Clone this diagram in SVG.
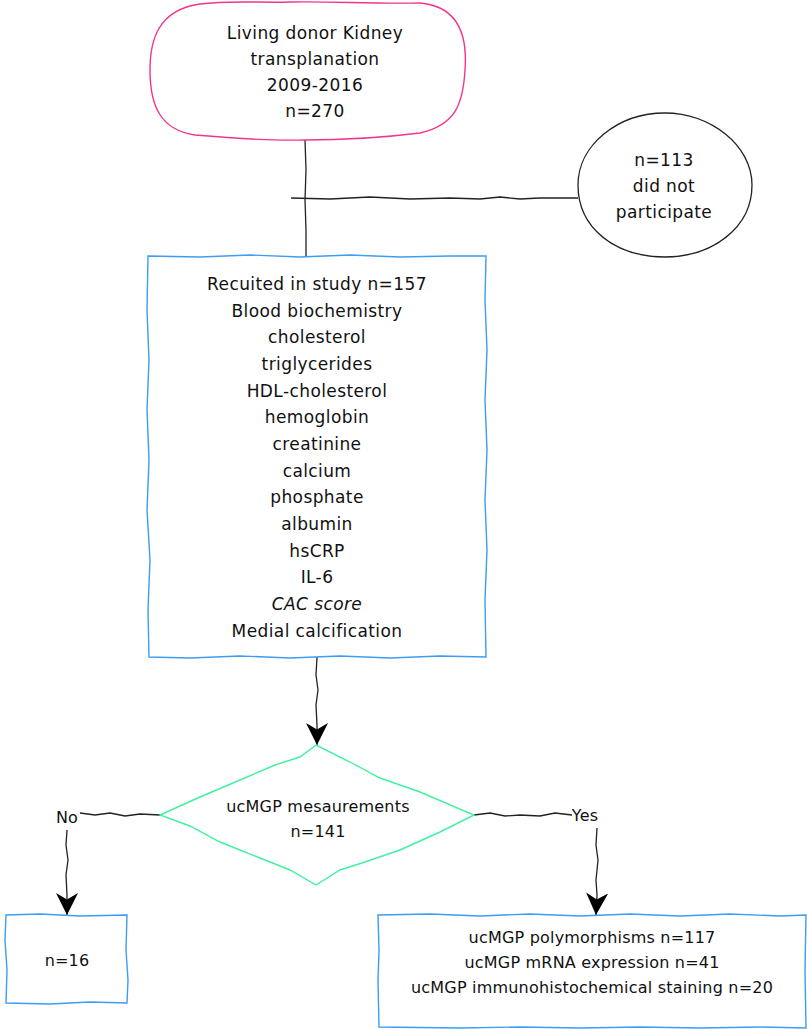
<svg xmlns="http://www.w3.org/2000/svg" width="807" height="1029" viewBox="0 0 807 1029">
<defs>
<style>
.t{font-family:"DejaVu Sans","Liberation Sans",sans-serif;font-size:17px;letter-spacing:0.4px;fill:#111;text-anchor:middle}
.s{font-family:"DejaVu Sans","Liberation Sans",sans-serif;font-size:16px;letter-spacing:0.2px;fill:#111;text-anchor:middle}
.pink{fill:#fff;stroke:#f0358f;stroke-width:1.4}
.blue{fill:#fff;stroke:#3d9cf5;stroke-width:1.4}
.green{fill:#fff;stroke:#42f0a0;stroke-width:1.4}
.blk{fill:#fff;stroke:#222;stroke-width:1.3}
.ln{fill:none;stroke:#222;stroke-width:1.3}
</style>
<marker id="ah" viewBox="0 0 10 10" refX="10" refY="5" markerWidth="22" markerHeight="22" markerUnits="userSpaceOnUse" orient="auto">
<path d="M0,0 L10,5 L0,10 L3,5 Z" fill="#000"/>
</marker>
</defs>
<rect width="807" height="1029" fill="#fff"/>
<g id="connectors">
<path class="ln" d="M305,140 L306,170 L305,200 L306,230 L306,256"/>
<path class="ln" d="M291,198 L330,199 L370,197 L410,199 L450,198 L480,199 L500,197 L520,199 L540,198 L578,198"/>
<path class="ln" d="M317,657 L316,675 L318,690 L316,705 L317,725 L317,745" marker-end="url(#ah)"/>
<path class="ln" d="M160,815 L140,814 L125,816 L110,813 L95,815 L80,813"/>
<path class="ln" d="M67,830 L66,845 L68,860 L66,875 L67,895 L67,915" marker-end="url(#ah)"/>
<path class="ln" d="M474,815 L490,813 L505,816 L520,815 L540,816 L555,813 L572,815"/>
<path class="ln" d="M597,828 L596,845 L598,860 L596,880 L597,895 L596,915" marker-end="url(#ah)"/>
<text class="s" x="67" y="823" font-size="14">No</text>
<text class="s" x="585" y="821" font-size="14">Yes</text>
</g>
<g id="n1">
<path class="pink" d="M200,4 C230,0 260,3 290,2 C330,1 370,4 420,3 C455,6 468,30 465,70 C463,105 455,125 420,133 C380,138 340,140 305,140 C270,141 230,138 195,135 C160,130 150,105 150,70 C150,40 158,10 200,4 Z"/>
<text class="t" x="315" y="39">Living donor Kidney</text>
<text class="t" x="315" y="65">transplanation</text>
<text class="t" x="315" y="91">2009-2016</text>
<text class="t" x="315" y="117">n=270</text>
</g>
<g id="n2">
<path class="blk" d="M665,113 C710,113 752,145 752,185 C752,228 712,257 665,257 C615,257 578,228 578,185 C578,145 618,113 665,113 Z"/>
<text class="t" x="664" y="166">n=113</text>
<text class="t" x="664" y="192">did not</text>
<text class="t" x="664" y="218">participate</text>
</g>
<g id="n3">
<path class="blue" d="M148,256 L200,257 L250,255 L300,257 L350,255 L400,257 L450,256 L486,256 L485,300 L487,350 L485,400 L487,450 L485,500 L487,550 L485,600 L486,657 L440,656 L390,658 L340,656 L290,658 L240,656 L190,658 L149,657 L148,610 L150,560 L147,510 L149,460 L147,410 L149,360 L147,310 Z"/>
<g class="t">
<text x="317" y="290">Recuited in study n=157</text>
<text x="317" y="317">Blood biochemistry</text>
<text x="317" y="343">cholesterol</text>
<text x="317" y="370">triglycerides</text>
<text x="317" y="397">HDL-cholesterol</text>
<text x="317" y="423">hemoglobin</text>
<text x="317" y="450">creatinine</text>
<text x="317" y="477">calcium</text>
<text x="317" y="503">phosphate</text>
<text x="317" y="530">albumin</text>
<text x="317" y="557">hsCRP</text>
<text x="317" y="583">IL-6</text>
<text x="317" y="610" font-style="italic">CAC score</text>
<text x="317" y="637">Medial calcification</text>
</g>
</g>
<g id="n4">
<path class="green" d="M316,745 L350,762 L380,778 L420,792 L474,815 L440,832 L400,850 L365,862 L340,870 L316,885 L290,870 L260,858 L220,842 L190,826 L160,815 L200,797 L240,780 L275,765 L300,757 Z"/>
<text class="s" x="318" y="812">ucMGP mesaurements</text>
<text class="s" x="318" y="837">n=141</text>
</g>
<g id="n5">
<path class="blue" d="M6,915 L40,914 L80,916 L127,915 L126,950 L128,980 L127,1003 L90,1002 L50,1004 L6,1003 L7,970 L5,940 Z"/>
<text class="s" x="67" y="966">n=16</text>
</g>
<g id="n6">
<path class="blue" d="M378,915 L430,914 L480,916 L530,914 L580,916 L630,914 L680,916 L730,914 L780,916 L806,915 L805,970 L806,1028 L760,1027 L700,1028 L640,1027 L580,1028 L520,1027 L460,1028 L379,1027 L378,980 L379,950 Z"/>
<text class="s" x="592" y="943">ucMGP polymorphisms n=117</text>
<text class="s" x="592" y="968">ucMGP mRNA expression n=41</text>
<text class="s" x="592" y="993">ucMGP immunohistochemical staining n=20</text>
</g>
</svg>
